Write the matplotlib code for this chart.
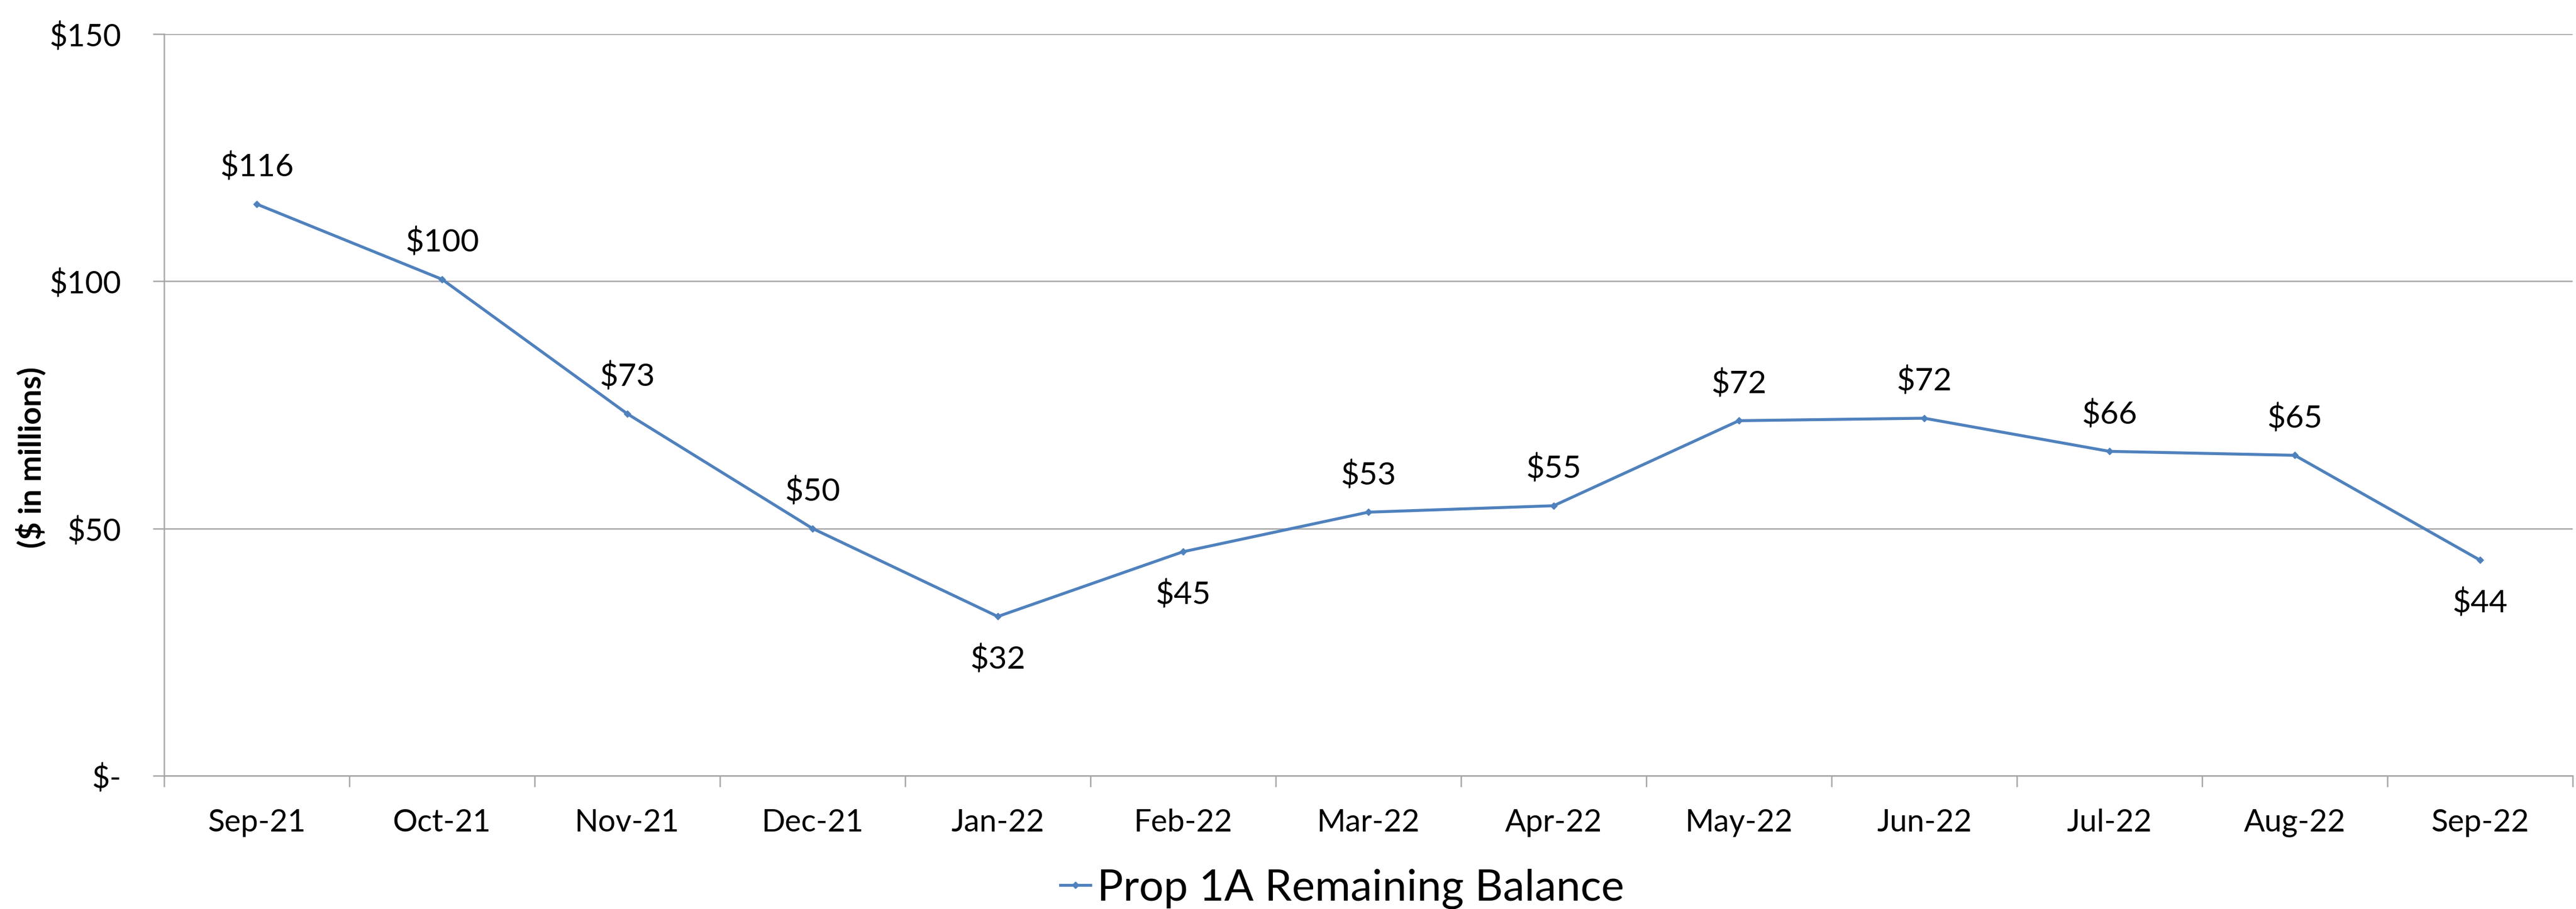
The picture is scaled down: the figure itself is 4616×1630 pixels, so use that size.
import matplotlib.pyplot as plt
import numpy as np

plt.rcParams['font.family'] = ['Lato', 'DejaVu Sans']

# Prop 1A remaining balance, $ in millions
months = ['Sep-21', 'Oct-21', 'Nov-21', 'Dec-21', 'Jan-22', 'Feb-22', 'Mar-22',
          'Apr-22', 'May-22', 'Jun-22', 'Jul-22', 'Aug-22', 'Sep-22']
balance = [115.6, 100.4, 73.2, 50.0, 32.2, 45.3, 53.3, 54.6, 71.8, 72.3, 65.6, 64.8, 43.6]
labels_below = ['Jan-22', 'Feb-22', 'Sep-22']
y_ticks = [0, 50, 100, 150]
y_ticklabels = ['$-', '$50', '$100', '$150']
series_name = 'Prop 1A Remaining Balance'

blue = '#4F81BD'
grid_gray = '#A6A6A6'

fig = plt.figure(figsize=(46.16, 16.31), dpi=100)
ax = fig.add_axes([294 / 4616, 1 - 1392 / 1631, (4610 - 294) / 4616, (1392 - 62) / 1631])

x = np.arange(len(months))
ax.plot(x, balance, color=blue, lw=3.8, marker='D', markersize=6,
        label=series_name, zorder=3)

for xi, v, m in zip(x, balance, months):
    if m in labels_below:
        off = -55
    else:
        off = 48
    ax.annotate(f'${v:.0f}', (xi, v), xytext=(0, off), textcoords='offset points',
                ha='center', va='center', fontsize=41)

ax.set_xlim(-0.5, len(months) - 0.5)
ax.set_ylim(0, 150)
ax.set_yticks(y_ticks)
ax.set_yticklabels(y_ticklabels)
ax.set_xticks(x)
ax.set_xticklabels(months)
ax.set_xticks(np.arange(len(months) + 1) - 0.5, minor=True)

ax.yaxis.grid(True, color=grid_gray, lw=1.8)
ax.set_axisbelow(True)

for s in ['top', 'right']:
    ax.spines[s].set_visible(False)
for s in ['left', 'bottom']:
    ax.spines[s].set_color(grid_gray)
    ax.spines[s].set_linewidth(1.8)

ax.tick_params(axis='x', which='major', length=0, pad=42, labelsize=40)
ax.tick_params(axis='x', which='minor', length=14.4, width=1.8, color=grid_gray)
ax.tick_params(axis='y', length=14.4, width=1.8, color=grid_gray, pad=41, labelsize=40)

fig.text(55 / 4616, 1 - 820 / 1631, '($ in millions)', rotation=90, ha='center',
         va='center', fontsize=40, fontweight='bold')

fig.legend(loc='center', bbox_to_anchor=(2405 / 4616, 1 - 1594 / 1631), frameon=False,
           fontsize=56, handlelength=0.7, handletextpad=0.15, borderpad=0)

fig.savefig('out.png', dpi=100)
